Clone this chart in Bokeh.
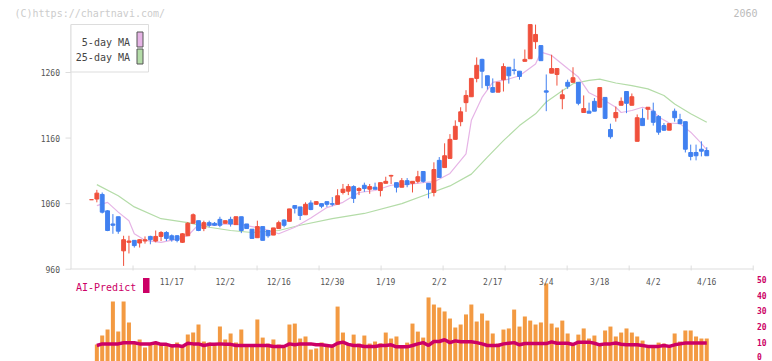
from bokeh.plotting import figure
from bokeh.models import Range1d
from bokeh.core.properties import value
from bokeh.embed import file_html
from bokeh.resources import INLINE

# ---------------- data ----------------
date_labels = ["11/17", "12/2", "12/16", "12/30", "1/19", "2/2", "2/17", "3/4", "3/18", "4/2", "4/16"]
date_index = [15, 25, 35, 45, 55, 65, 75, 85, 95, 105, 115]

opens = [1066, 1067, 1074, 1049, 1029, 1040, 988, 1001, 1004, 1000,
         1003, 1010, 1003, 1010, 1016, 1011, 1011, 1001, 1011, 1030,
         1034, 1022, 1031, 1030, 1036, 1030, 1036, 1028, 1040, 1029,
         1021, 1008, 1025, 1019, 1012, 1022, 1035, 1033, 1057, 1055,
         1043, 1061, 1059, 1060, 1063, 1060, 1059, 1077, 1079, 1086,
         1080, 1088, 1082, 1085, 1080, 1091, 1102, 1092, 1085, 1095,
         1091, 1094, 1109, 1091, 1077, 1126, 1115, 1129, 1158, 1185,
         1214, 1223, 1251, 1280, 1255, 1237, 1230, 1249, 1268, 1264,
         1262, 1277, 1281, 1307, 1301, 1232, 1259, 1257, 1220, 1245,
         1245, 1245, 1199, 1201, 1216, 1207, 1222, 1173, 1191, 1210,
         1231, 1210, 1155, 1190, 1204, 1201, 1193, 1179, 1172, 1201,
         1188, 1185, 1138, 1138, 1143, 1141]
highs = [1066, 1081, 1077, 1050, 1044, 1040, 1011, 1011, 1004, 1006,
         1010, 1011, 1019, 1018, 1018, 1013, 1012, 1015, 1032, 1045,
         1034, 1034, 1034, 1032, 1040, 1034, 1040, 1040, 1040, 1029,
         1021, 1034, 1025, 1020, 1023, 1034, 1036, 1052, 1057, 1055,
         1062, 1065, 1064, 1060, 1063, 1070, 1082, 1090, 1090, 1088,
         1085, 1092, 1090, 1092, 1092, 1101, 1104, 1092, 1099, 1099,
         1094, 1110, 1109, 1091, 1123, 1131, 1152, 1166, 1187, 1207,
         1233, 1251, 1283, 1281, 1255, 1251, 1245, 1274, 1268, 1281,
         1262, 1295, 1333, 1333, 1301, 1257, 1287, 1266, 1234, 1249,
         1268, 1245, 1225, 1214, 1221, 1237, 1222, 1182, 1208, 1222,
         1231, 1228, 1196, 1205, 1207, 1214, 1195, 1183, 1182, 1205,
         1197, 1185, 1150, 1150, 1155, 1146]
lows = [1066, 1062, 1045, 1018, 1014, 1014, 965, 984, 993, 993,
        999, 998, 1001, 1003, 1003, 1002, 1001, 1000, 1011, 1030,
        1018, 1018, 1024, 1026, 1024, 1030, 1025, 1028, 1015, 1022,
        1007, 1008, 1004, 1008, 1012, 1022, 1024, 1033, 1045, 1035,
        1043, 1050, 1058, 1053, 1055, 1056, 1059, 1074, 1073, 1061,
        1073, 1078, 1075, 1082, 1071, 1091, 1090, 1077, 1085, 1085,
        1077, 1091, 1092, 1068, 1071, 1100, 1115, 1129, 1158, 1178,
        1200, 1223, 1245, 1236, 1234, 1229, 1230, 1231, 1243, 1257,
        1249, 1277, 1281, 1296, 1278, 1201, 1259, 1240, 1204, 1235,
        1245, 1210, 1199, 1198, 1201, 1207, 1190, 1159, 1185, 1210,
        1198, 1210, 1155, 1179, 1188, 1179, 1165, 1171, 1172, 1185,
        1181, 1138, 1126, 1126, 1132, 1133]
closes = [1066, 1076, 1047, 1019, 1027, 1018, 1005, 1003, 996, 1005,
          1005, 1005, 1010, 1016, 1007, 1005, 1004, 1014, 1030, 1043,
          1019, 1031, 1027, 1027, 1027, 1034, 1029, 1040, 1019, 1022,
          1007, 1025, 1004, 1011, 1023, 1031, 1027, 1052, 1053, 1042,
          1059, 1051, 1063, 1056, 1059, 1059, 1072, 1082, 1086, 1068,
          1083, 1083, 1086, 1082, 1092, 1094, 1103, 1085, 1095, 1089,
          1094, 1101, 1094, 1082, 1112, 1100, 1133, 1158, 1178, 1200,
          1225, 1251, 1271, 1262, 1240, 1230, 1245, 1269, 1255, 1263,
          1254, 1280, 1333, 1318, 1278, 1230, 1266, 1266, 1226, 1239,
          1252, 1213, 1205, 1198, 1201, 1237, 1190, 1162, 1199, 1216,
          1213, 1223, 1191, 1179, 1207, 1184, 1169, 1172, 1182, 1191,
          1182, 1143, 1132, 1133, 1140, 1133]

volume_index = list(range(1, 116))
volume = [8.7, 14.4, 18.2, 36.0, 17.0, 36.0, 22.7, 9.1, 11.9,
          6.8, 9.1, 10.2, 9.1, 8.7, 9.1, 10.0, 7.4, 15.0, 16.3,
          21.4, 10.6, 10.0, 8.7, 20.1, 11.9, 15.7, 10.0, 18.2, 8.1,
          8.1, 24.6, 13.1, 9.3, 11.9, 8.7, 6.8, 21.4, 22.0, 12.5,
          13.8, 5.5, 6.2, 10.0, 8.7, 8.7, 32.8, 16.3, 9.3, 15.0,
          9.3, 14.4, 9.3, 10.6, 9.5, 16.3, 12.5, 13.8, 7.6, 9.9,
          22.0, 16.9, 13.1, 38.6, 34.1, 32.2, 29.7, 25.2, 19.5, 21.4,
          27.8, 34.1, 23.3, 28.4, 23.9, 15.7, 9.3, 18.2, 18.9, 30.9,
          20.1, 26.5, 23.9, 21.4, 22.7, 47.5, 22.0, 19.5, 23.9, 15.7,
          9.3, 15.0, 18.9, 12.5, 14.4, 9.3, 17.6, 20.1, 13.8, 16.3,
          18.9, 16.3, 13.8, 11.2, 8.0, 6.7, 9.9, 9.3, 7.4, 15.7,
          10.6, 17.6, 17.6, 13.8, 12.5, 12.5]

ai_index = list(range(1, 116))
ai_predict = [8.1, 9.1, 9.1, 9.1, 9.1, 9.8, 9.8, 9.8, 9.1, 9.1,
              9.1, 9.8, 8.8, 8.8, 7.8, 8.1, 7.4, 9.5, 9.1, 9.1,
              8.1, 8.8, 8.8, 9.1, 8.8, 8.8, 8.1, 8.1, 8.1, 8.1,
              8.1, 8.1, 8.1, 7.4, 7.4, 7.4, 9.1, 8.5, 9.1, 9.1,
              9.1, 8.5, 8.5, 8.1, 7.6, 9.5, 10.2, 8.8, 8.1, 8.1,
              7.4, 7.4, 7.4, 8.1, 8.1, 8.5, 7.2, 7.2, 7.2, 8.1,
              9.1, 9.9, 8.1, 10.6, 10.6, 11.7, 9.9, 11.0, 10.4, 10.4,
              10.4, 9.9, 9.1, 8.1, 8.1, 8.1, 9.1, 9.5, 9.9, 8.5,
              9.3, 9.3, 9.3, 9.3, 9.3, 10.4, 9.5, 9.5, 9.5, 8.7,
              10.2, 10.2, 10.2, 9.5, 8.5, 9.1, 9.1, 9.7, 8.9, 8.5,
              8.5, 8.5, 8.1, 7.5, 7.5, 7.5, 8.1, 7.5, 8.5, 9.1,
              9.7, 9.7, 9.7, 9.7, 9.7]

ma5_index = [1, 3, 5, 7, 8, 10, 13, 16, 18, 20, 23, 25, 28, 32, 35, 38, 41, 44, 47, 50,
             53, 56, 60, 63, 64, 67, 70, 71, 73, 75, 78, 80, 83, 84, 86, 89, 91, 93, 96, 98,
             99, 101, 103, 105, 106, 108, 110, 112, 114, 115]
ma5_value = [1057, 1062, 1047, 1034, 1014, 1004, 1001, 1006, 1011, 1028, 1027, 1029, 1028, 1022, 1014, 1024, 1038, 1054, 1062, 1077,
             1080, 1088, 1090, 1093, 1093, 1106, 1136, 1187, 1222, 1245, 1250, 1255, 1273, 1291, 1286, 1266, 1253, 1229, 1217, 1207,
             1199, 1202, 1207, 1202, 1192, 1183, 1182, 1169, 1152, 1142]

ma25_index = [1, 5, 8, 13, 18, 22, 26, 30, 35, 39, 45, 51, 58, 63, 67, 71, 74, 77, 80, 83,
              85, 88, 90, 93, 95, 98, 101, 104, 107, 109, 112, 115]
ma25_value = [1089, 1072, 1055, 1037, 1031, 1024, 1019, 1016, 1019, 1027, 1037, 1045, 1060, 1075, 1087, 1105, 1131, 1156, 1179, 1197,
              1215, 1232, 1243, 1248, 1250, 1244, 1240, 1235, 1225, 1212, 1197, 1184]

price_ticks = [960, 1060, 1160, 1260]
volume_ticks = [0, 10, 20, 30, 40, 50]

# ---------------- layout (page pixels; the page starts at 0,0) ----------------
W, H = 772, 361
X0, DX = 91.0, 5.35                       # page x of candle 0, px per candle
PY960, PPX = 268.7, 0.6557                # page y of price 960, px per price unit
VY0, VPX = 357.7, 1.574                   # page y of volume 0, px per volume unit
AXL, AXR = 70.5, 752.7                    # price panel axis extent (px)


def px2x(px):
    return (px - X0) / DX


def py2p(py):
    return 960 + (PY960 - py) / PPX


def py2v(py):
    return (VY0 - py) / VPX


RED, BLUE = "#f0503c", "#4080f0"
PINK, GREEN = "#e6b4e6", "#b4dca8"
ORANGE, CRIMSON = "#f39a42", "#cc0066"
AXIS = "#dddddd"
MONO = value("DejaVu Sans Mono")

p = figure(width=W, height=H, output_backend="svg", toolbar_location=None,
           x_axis_location=None, y_axis_location=None,
           x_range=Range1d(px2x(0), px2x(W)),
           y_range=Range1d(py2p(H), py2p(0)),
           min_border=0, outline_line_color=None,
           background_fill_color="white", border_fill_color="white")
p.extra_y_ranges = {"vol": Range1d(py2v(H), py2v(0))}
p.grid.visible = False

# price axis: line, ticks, labels
p.segment(x0=[px2x(AXL), px2x(AXL - 0.5)], y0=[py2p(24), py2p(268.5)],
          x1=[px2x(AXL), px2x(AXR)], y1=[py2p(268.5), py2p(268.5)],
          line_color=AXIS, line_width=1)
p.segment(x0=[px2x(65)] * len(price_ticks), y0=price_ticks,
          x1=[px2x(AXL)] * len(price_ticks), y1=price_ticks,
          line_color=AXIS, line_width=1)
p.text(x=[px2x(59.5)] * len(price_ticks), y=price_ticks, text=[str(t) for t in price_ticks],
       text_align="right", text_baseline="middle", text_font=MONO,
       text_font_size="8px", text_color="#555555")
tick_px = [AXL + k * (AXR - AXL) / 11 for k in range(1, 12)]
p.segment(x0=[px2x(t) for t in tick_px], y0=[py2p(265)] * len(tick_px),
          x1=[px2x(t) for t in tick_px], y1=[py2p(270)] * len(tick_px),
          line_color=AXIS, line_width=1)

# volume axis labels (the lowest one is lifted a little so that it stays on the page)
vol_label_y = [max(t, py2v(355.5)) for t in volume_ticks]
p.text(x=[px2x(756.5)] * len(volume_ticks), y=vol_label_y, y_range_name="vol",
       text=[str(t) for t in volume_ticks], text_align="left", text_baseline="middle",
       text_font=MONO, text_font_size="8px", text_font_style="bold", text_color=CRIMSON)

# volume + AI predict
p.vbar(x=volume_index, width=0.75, top=volume, bottom=py2v(H), y_range_name="vol",
       fill_color=ORANGE, line_color=None)
p.line(ai_index, ai_predict, y_range_name="vol", line_color=CRIMSON, line_width=3.5)

# moving averages
p.line(ma25_index, ma25_value, line_color=GREEN, line_width=1.2)
p.line(ma5_index, ma5_value, line_color=PINK, line_width=1.2)

# candles
idx = list(range(len(opens)))
colors = [RED if c >= o else BLUE for o, c in zip(opens, closes)]
tops = [max(o, c) for o, c in zip(opens, closes)]
bots = [min(o, c) for o, c in zip(opens, closes)]
p.segment(x0=idx, y0=lows, x1=idx, y1=highs, line_color=colors, line_width=1)
p.vbar(x=idx, width=0.72, top=tops, bottom=bots, fill_color=colors, line_color=colors, line_width=1)

# date labels
p.text(x=date_index, y=[py2p(281.7)] * len(date_index), text=date_labels,
       text_align="center", text_baseline="middle", text_font=MONO,
       text_font_size="8px", text_color="#555555")

# legend box
p.quad(left=[px2x(70.5)], right=[px2x(148)], top=[py2p(24)], bottom=[py2p(71.5)],
       fill_color="white", line_color="#dddddd", line_width=1)
p.quad(left=[px2x(136.5)] * 2, right=[px2x(142.5)] * 2,
       top=[py2p(31.5), py2p(48.5)], bottom=[py2p(46.5), py2p(63.5)],
       fill_color=[PINK, GREEN], line_color="#555555", line_width=1)
p.text(x=[px2x(129.5)] * 2, y=[py2p(41.5), py2p(56.5)], text=["5-day MA", "25-day MA"],
       text_align="right", text_baseline="middle", text_font=MONO,
       text_font_size="10px", text_color="#444444")

# AI-Predict caption
p.text(x=[px2x(75.5)], y=[py2p(286.5)], text=["AI-Predict"], text_align="left",
       text_baseline="middle", text_font=MONO, text_font_size="10px", text_color=CRIMSON)
p.quad(left=[px2x(142.5)], right=[px2x(149)], top=[py2p(277.5)], bottom=[py2p(292.5)],
       fill_color=CRIMSON, line_color=None)

# header texts
p.text(x=[px2x(14), px2x(757)], y=[py2p(12.5)] * 2, text=["(C)https://chartnavi.com/", "2060"],
       text_align=["left", "right"], text_baseline="middle", text_font=MONO,
       text_font_size="10px", text_color=["#cccccc", "#bbbbbb"])

open("out.html", "w").write(file_html(p, INLINE))
